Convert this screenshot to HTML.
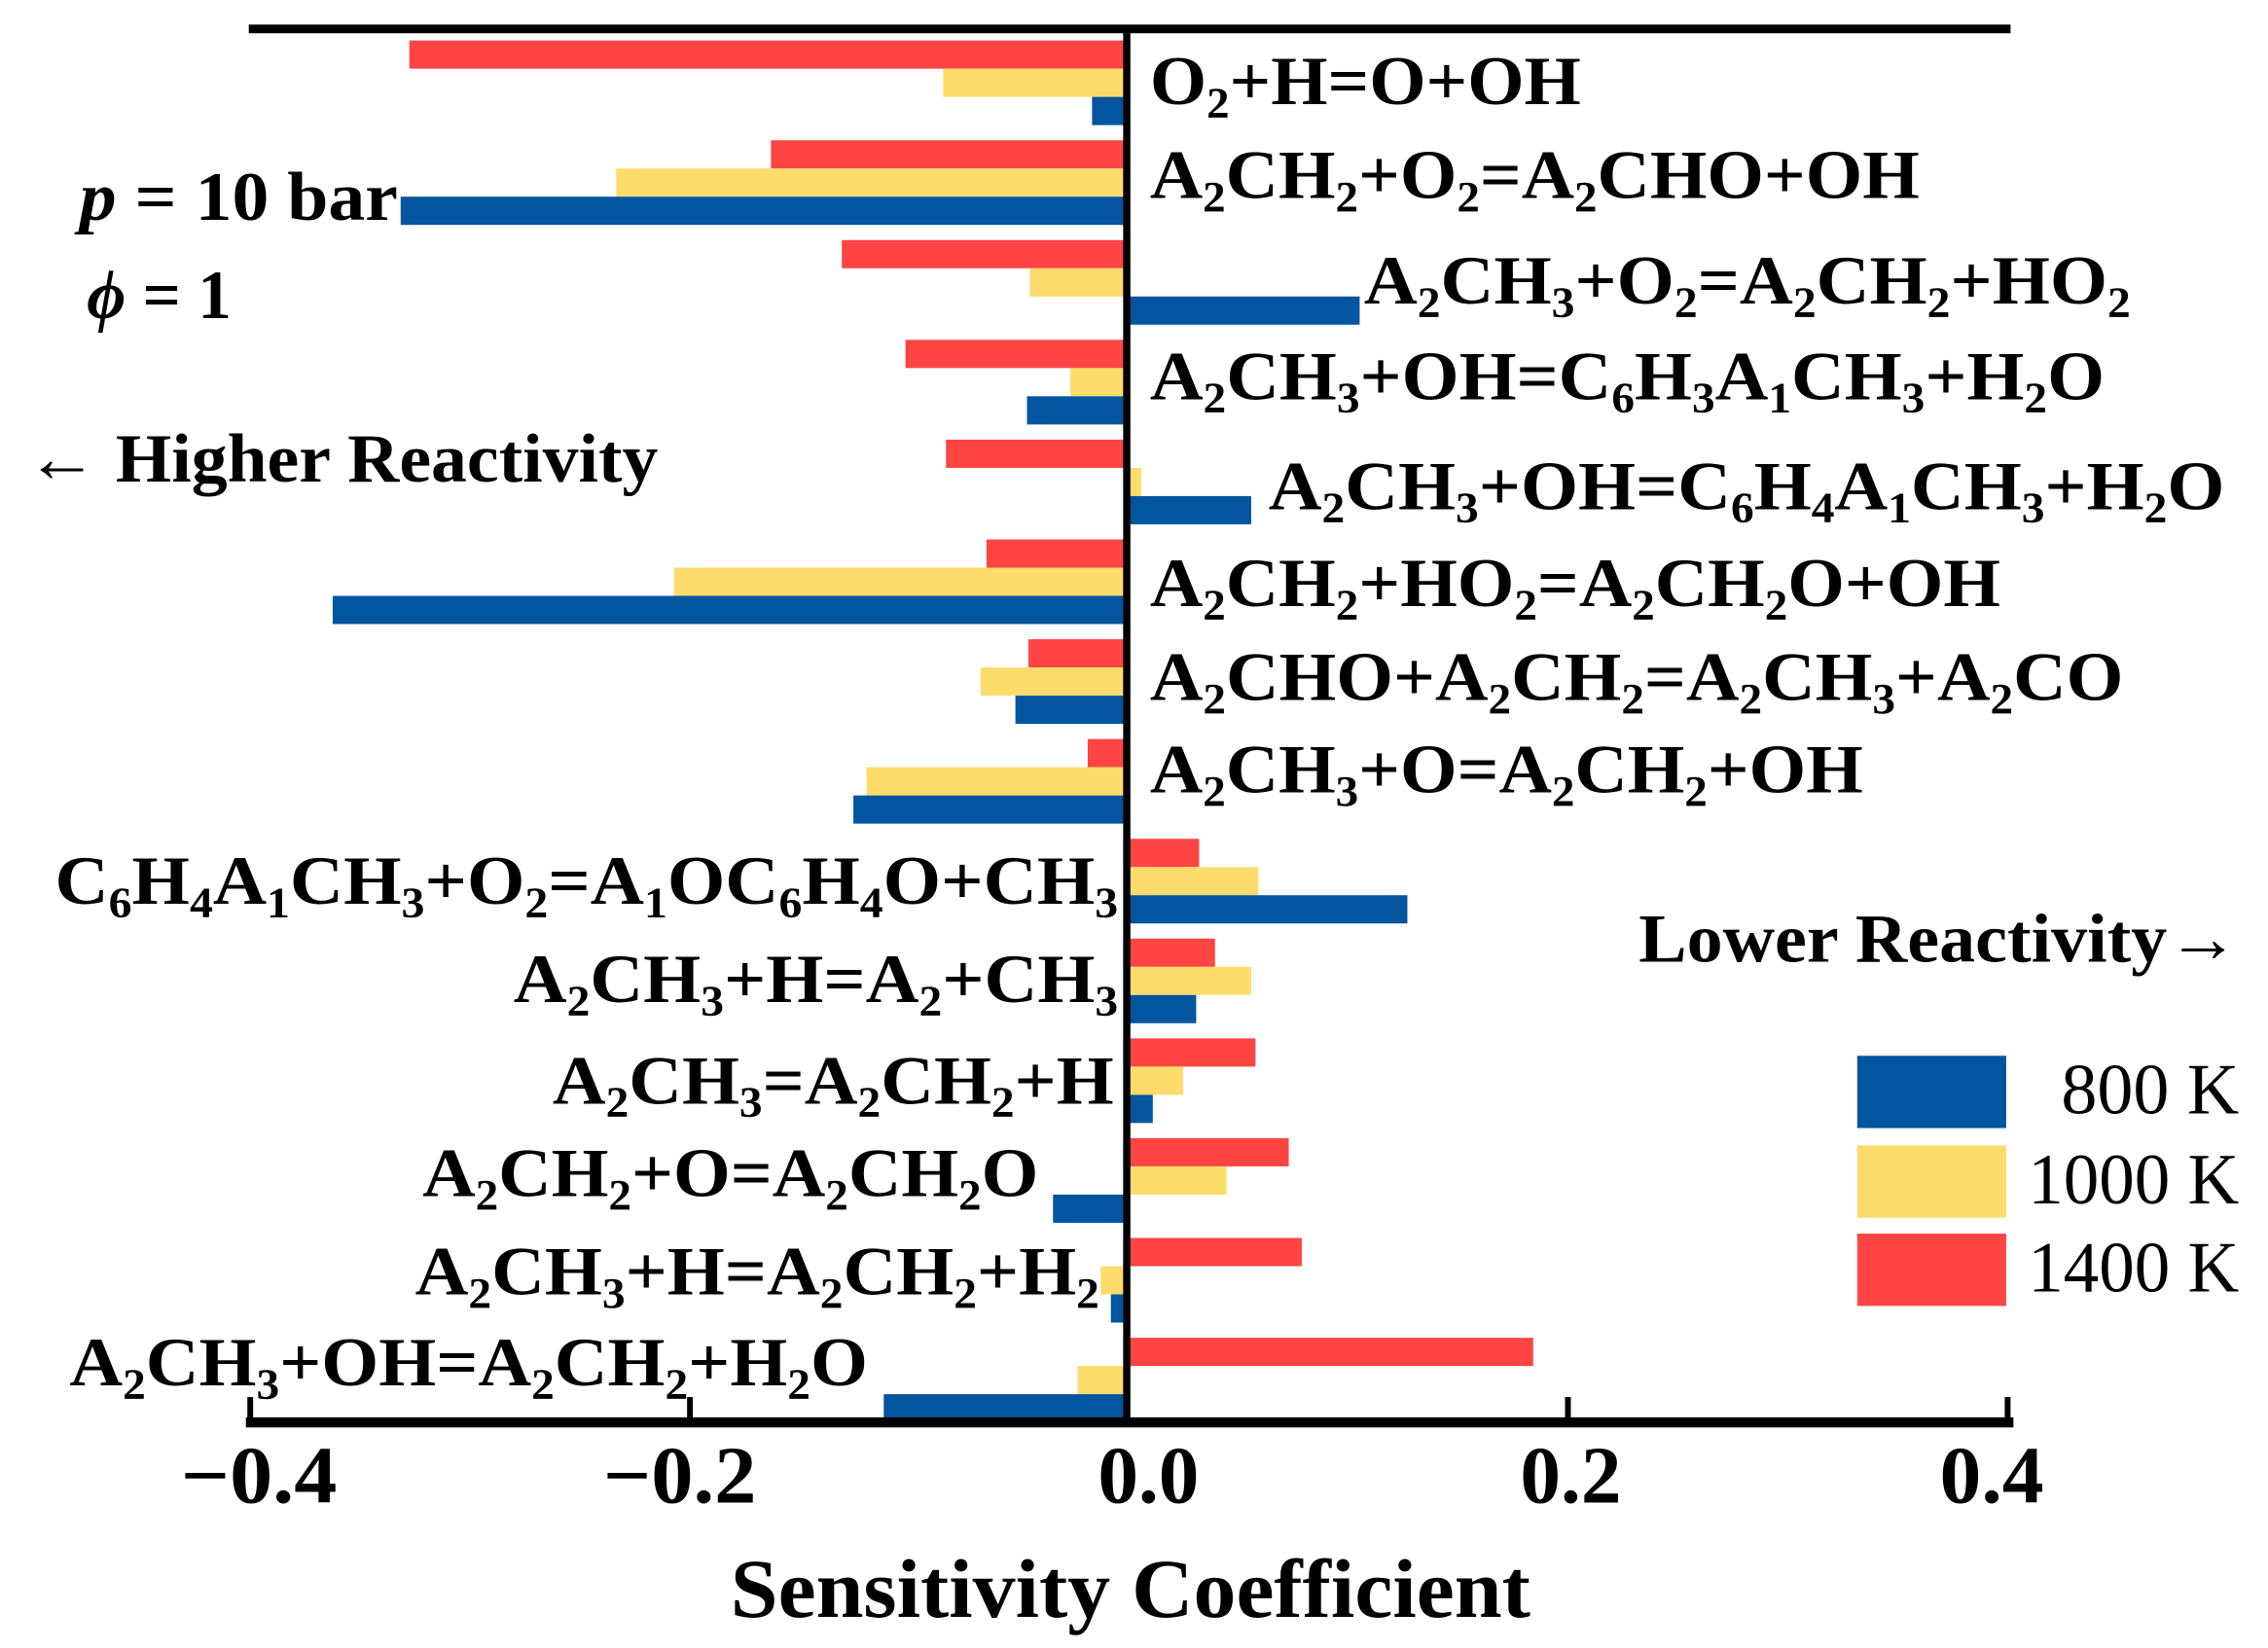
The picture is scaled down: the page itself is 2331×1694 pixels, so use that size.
<!DOCTYPE html>
<html><head><meta charset="utf-8"><style>
html,body{margin:0;padding:0;background:#fff;}
svg{display:block;}
text{font-family:"Liberation Serif",serif;fill:#000;}
.b{font-weight:bold;}
</style></head><body>
<svg width="2331" height="1694" viewBox="0 0 1568 1139.5" xmlns="http://www.w3.org/2000/svg">
<g>
<rect x="283" y="28" width="496" height="19.5" fill="#FF4444"/>
<rect x="652" y="47.5" width="127" height="19.5" fill="#FEDC6C"/>
<rect x="755" y="67" width="24" height="19.5" fill="#02559E"/>
<rect x="533" y="97" width="246" height="19.5" fill="#FF4444"/>
<rect x="426" y="116.5" width="353" height="19.5" fill="#FEDC6C"/>
<rect x="277" y="136" width="502" height="19.5" fill="#02559E"/>
<rect x="582" y="166" width="197" height="19.5" fill="#FF4444"/>
<rect x="712" y="185.5" width="67" height="19.5" fill="#FEDC6C"/>
<rect x="779" y="205" width="161" height="19.5" fill="#02559E"/>
<rect x="626" y="235" width="153" height="19.5" fill="#FF4444"/>
<rect x="740" y="254.5" width="39" height="19.5" fill="#FEDC6C"/>
<rect x="710" y="274" width="69" height="19.5" fill="#02559E"/>
<rect x="654" y="304" width="125" height="19.5" fill="#FF4444"/>
<rect x="779" y="323.5" width="10" height="19.5" fill="#FEDC6C"/>
<rect x="779" y="343" width="86" height="19.5" fill="#02559E"/>
<rect x="682" y="373" width="97" height="19.5" fill="#FF4444"/>
<rect x="466" y="392.5" width="313" height="19.5" fill="#FEDC6C"/>
<rect x="230" y="412" width="549" height="19.5" fill="#02559E"/>
<rect x="711" y="442" width="68" height="19.5" fill="#FF4444"/>
<rect x="678" y="461.5" width="101" height="19.5" fill="#FEDC6C"/>
<rect x="702" y="481" width="77" height="19.5" fill="#02559E"/>
<rect x="752" y="511" width="27" height="19.5" fill="#FF4444"/>
<rect x="599" y="530.5" width="180" height="19.5" fill="#FEDC6C"/>
<rect x="590" y="550" width="189" height="19.5" fill="#02559E"/>
<rect x="779" y="580" width="50" height="19.5" fill="#FF4444"/>
<rect x="779" y="599.5" width="91" height="19.5" fill="#FEDC6C"/>
<rect x="779" y="619" width="194" height="19.5" fill="#02559E"/>
<rect x="779" y="649" width="61" height="19.5" fill="#FF4444"/>
<rect x="779" y="668.5" width="86" height="19.5" fill="#FEDC6C"/>
<rect x="779" y="688" width="48" height="19.5" fill="#02559E"/>
<rect x="779" y="718" width="89" height="19.5" fill="#FF4444"/>
<rect x="779" y="737.5" width="39" height="19.5" fill="#FEDC6C"/>
<rect x="779" y="757" width="18" height="19.5" fill="#02559E"/>
<rect x="779" y="787" width="112" height="19.5" fill="#FF4444"/>
<rect x="779" y="806.5" width="69" height="19.5" fill="#FEDC6C"/>
<rect x="728" y="826" width="51" height="19.5" fill="#02559E"/>
<rect x="779" y="856" width="121" height="19.5" fill="#FF4444"/>
<rect x="761" y="875.5" width="18" height="19.5" fill="#FEDC6C"/>
<rect x="768" y="895" width="11" height="19.5" fill="#02559E"/>
<rect x="779" y="925" width="281" height="19.5" fill="#FF4444"/>
<rect x="745" y="944.5" width="34" height="19.5" fill="#FEDC6C"/>
<rect x="611" y="964" width="168" height="19.5" fill="#02559E"/>
</g>
<!-- axes -->
<rect x="172" y="17" width="1218" height="6" fill="#000"/>
<rect x="776.5" y="20" width="5" height="965" fill="#000"/>
<rect x="170" y="980" width="1222" height="7" fill="#000"/>
<rect x="171" y="966" width="4" height="18" fill="#000"/>
<rect x="475" y="966" width="4" height="18" fill="#000"/>
<rect x="1082" y="966" width="4" height="18" fill="#000"/>
<rect x="1386" y="966" width="4" height="18" fill="#000"/>
<g class="b" font-size="56">
<text x="125" y="1039" textLength="108" lengthAdjust="spacingAndGlyphs">−0.4</text>
<text x="417" y="1039" textLength="106" lengthAdjust="spacingAndGlyphs">−0.2</text>
<text x="759" y="1039" textLength="70" lengthAdjust="spacingAndGlyphs">0.0</text>
<text x="1051" y="1039" textLength="70" lengthAdjust="spacingAndGlyphs">0.2</text>
<text x="1341" y="1039" textLength="72" lengthAdjust="spacingAndGlyphs">0.4</text>
<text x="505" y="1118" font-size="58" textLength="553" lengthAdjust="spacingAndGlyphs">Sensitivity Coefficient</text>
</g>
<g class="b" font-size="48">
<text x="795" y="72" textLength="298" lengthAdjust="spacingAndGlyphs">O<tspan font-size="30" dy="9">2</tspan><tspan dy="-9">+H=O+OH</tspan></text>
<text x="795" y="137" textLength="532" lengthAdjust="spacingAndGlyphs">A<tspan font-size="30" dy="9">2</tspan><tspan dy="-9">CH</tspan><tspan font-size="30" dy="9">2</tspan><tspan dy="-9">+O</tspan><tspan font-size="30" dy="9">2</tspan><tspan dy="-9">=A</tspan><tspan font-size="30" dy="9">2</tspan><tspan dy="-9">CHO+OH</tspan></text>
<text x="943" y="210" textLength="530" lengthAdjust="spacingAndGlyphs">A<tspan font-size="30" dy="9">2</tspan><tspan dy="-9">CH</tspan><tspan font-size="30" dy="9">3</tspan><tspan dy="-9">+O</tspan><tspan font-size="30" dy="9">2</tspan><tspan dy="-9">=A</tspan><tspan font-size="30" dy="9">2</tspan><tspan dy="-9">CH</tspan><tspan font-size="30" dy="9">2</tspan><tspan dy="-9">+HO</tspan><tspan font-size="30" dy="9">2</tspan></text>
<text x="795" y="276" textLength="660" lengthAdjust="spacingAndGlyphs">A<tspan font-size="30" dy="9">2</tspan><tspan dy="-9">CH</tspan><tspan font-size="30" dy="9">3</tspan><tspan dy="-9">+OH=C</tspan><tspan font-size="30" dy="9">6</tspan><tspan dy="-9">H</tspan><tspan font-size="30" dy="9">3</tspan><tspan dy="-9">A</tspan><tspan font-size="30" dy="9">1</tspan><tspan dy="-9">CH</tspan><tspan font-size="30" dy="9">3</tspan><tspan dy="-9">+H</tspan><tspan font-size="30" dy="9">2</tspan><tspan dy="-9">O</tspan></text>
<text x="877" y="352" textLength="661" lengthAdjust="spacingAndGlyphs">A<tspan font-size="30" dy="9">2</tspan><tspan dy="-9">CH</tspan><tspan font-size="30" dy="9">3</tspan><tspan dy="-9">+OH=C</tspan><tspan font-size="30" dy="9">6</tspan><tspan dy="-9">H</tspan><tspan font-size="30" dy="9">4</tspan><tspan dy="-9">A</tspan><tspan font-size="30" dy="9">1</tspan><tspan dy="-9">CH</tspan><tspan font-size="30" dy="9">3</tspan><tspan dy="-9">+H</tspan><tspan font-size="30" dy="9">2</tspan><tspan dy="-9">O</tspan></text>
<text x="795" y="419" textLength="588" lengthAdjust="spacingAndGlyphs">A<tspan font-size="30" dy="9">2</tspan><tspan dy="-9">CH</tspan><tspan font-size="30" dy="9">2</tspan><tspan dy="-9">+HO</tspan><tspan font-size="30" dy="9">2</tspan><tspan dy="-9">=A</tspan><tspan font-size="30" dy="9">2</tspan><tspan dy="-9">CH</tspan><tspan font-size="30" dy="9">2</tspan><tspan dy="-9">O+OH</tspan></text>
<text x="795" y="484" textLength="673" lengthAdjust="spacingAndGlyphs">A<tspan font-size="30" dy="9">2</tspan><tspan dy="-9">CHO+A</tspan><tspan font-size="30" dy="9">2</tspan><tspan dy="-9">CH</tspan><tspan font-size="30" dy="9">2</tspan><tspan dy="-9">=A</tspan><tspan font-size="30" dy="9">2</tspan><tspan dy="-9">CH</tspan><tspan font-size="30" dy="9">3</tspan><tspan dy="-9">+A</tspan><tspan font-size="30" dy="9">2</tspan><tspan dy="-9">CO</tspan></text>
<text x="795" y="548" textLength="493" lengthAdjust="spacingAndGlyphs">A<tspan font-size="30" dy="9">2</tspan><tspan dy="-9">CH</tspan><tspan font-size="30" dy="9">3</tspan><tspan dy="-9">+O=A</tspan><tspan font-size="30" dy="9">2</tspan><tspan dy="-9">CH</tspan><tspan font-size="30" dy="9">2</tspan><tspan dy="-9">+OH</tspan></text>
<text x="38" y="625" textLength="735" lengthAdjust="spacingAndGlyphs">C<tspan font-size="30" dy="9">6</tspan><tspan dy="-9">H</tspan><tspan font-size="30" dy="9">4</tspan><tspan dy="-9">A</tspan><tspan font-size="30" dy="9">1</tspan><tspan dy="-9">CH</tspan><tspan font-size="30" dy="9">3</tspan><tspan dy="-9">+O</tspan><tspan font-size="30" dy="9">2</tspan><tspan dy="-9">=A</tspan><tspan font-size="30" dy="9">1</tspan><tspan dy="-9">OC</tspan><tspan font-size="30" dy="9">6</tspan><tspan dy="-9">H</tspan><tspan font-size="30" dy="9">4</tspan><tspan dy="-9">O+CH</tspan><tspan font-size="30" dy="9">3</tspan></text>
<text x="355" y="693" textLength="418" lengthAdjust="spacingAndGlyphs">A<tspan font-size="30" dy="9">2</tspan><tspan dy="-9">CH</tspan><tspan font-size="30" dy="9">3</tspan><tspan dy="-9">+H=A</tspan><tspan font-size="30" dy="9">2</tspan><tspan dy="-9">+CH</tspan><tspan font-size="30" dy="9">3</tspan></text>
<text x="382" y="763" textLength="388" lengthAdjust="spacingAndGlyphs">A<tspan font-size="30" dy="9">2</tspan><tspan dy="-9">CH</tspan><tspan font-size="30" dy="9">3</tspan><tspan dy="-9">=A</tspan><tspan font-size="30" dy="9">2</tspan><tspan dy="-9">CH</tspan><tspan font-size="30" dy="9">2</tspan><tspan dy="-9">+H</tspan></text>
<text x="292" y="827" textLength="426" lengthAdjust="spacingAndGlyphs">A<tspan font-size="30" dy="9">2</tspan><tspan dy="-9">CH</tspan><tspan font-size="30" dy="9">2</tspan><tspan dy="-9">+O=A</tspan><tspan font-size="30" dy="9">2</tspan><tspan dy="-9">CH</tspan><tspan font-size="30" dy="9">2</tspan><tspan dy="-9">O</tspan></text>
<text x="287" y="895" textLength="473" lengthAdjust="spacingAndGlyphs">A<tspan font-size="30" dy="9">2</tspan><tspan dy="-9">CH</tspan><tspan font-size="30" dy="9">3</tspan><tspan dy="-9">+H=A</tspan><tspan font-size="30" dy="9">2</tspan><tspan dy="-9">CH</tspan><tspan font-size="30" dy="9">2</tspan><tspan dy="-9">+H</tspan><tspan font-size="30" dy="9">2</tspan></text>
<text x="48" y="958" textLength="552" lengthAdjust="spacingAndGlyphs">A<tspan font-size="30" dy="9">2</tspan><tspan dy="-9">CH</tspan><tspan font-size="30" dy="9">3</tspan><tspan dy="-9">+OH=A</tspan><tspan font-size="30" dy="9">2</tspan><tspan dy="-9">CH</tspan><tspan font-size="30" dy="9">2</tspan><tspan dy="-9">+H</tspan><tspan font-size="30" dy="9">2</tspan><tspan dy="-9">O</tspan></text>
<text x="55" y="152" textLength="220" lengthAdjust="spacingAndGlyphs"><tspan font-style="italic">p</tspan> = 10 bar</text>
<text x="60" y="220" textLength="100" lengthAdjust="spacingAndGlyphs"><tspan font-style="italic">ϕ</tspan> = 1</text>
<text x="18" y="333" textLength="437" lengthAdjust="spacingAndGlyphs">← Higher Reactivity</text>
<text x="1133" y="665" textLength="415" lengthAdjust="spacingAndGlyphs">Lower Reactivity→</text>
</g>
<rect x="1284" y="730" width="103" height="50" fill="#02559E"/>
<rect x="1284" y="792" width="103" height="50" fill="#FEDC6C"/>
<rect x="1284" y="853" width="103" height="50" fill="#FF4444"/>
<g font-size="50">
<text x="1425" y="770" textLength="123" lengthAdjust="spacingAndGlyphs">800 K</text>
<text x="1402" y="832" textLength="146" lengthAdjust="spacingAndGlyphs">1000 K</text>
<text x="1402" y="893" textLength="146" lengthAdjust="spacingAndGlyphs">1400 K</text>
</g>
</svg>
</body></html>
